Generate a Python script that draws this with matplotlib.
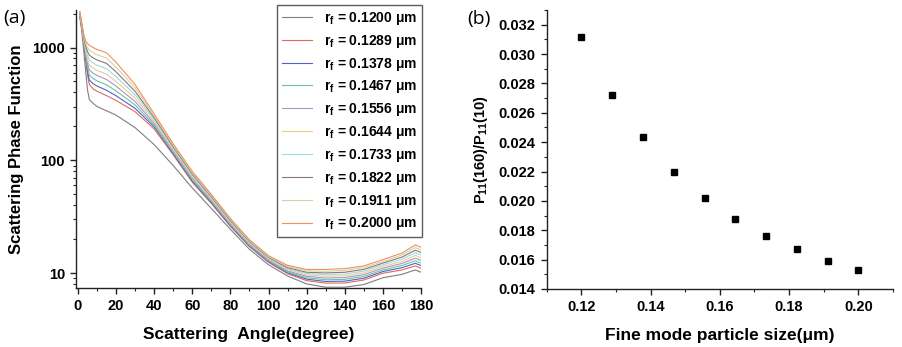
import matplotlib
matplotlib.use("Agg")
import matplotlib.pyplot as plt
from matplotlib.ticker import MultipleLocator, LogLocator, NullFormatter, FixedLocator, FormatStrFormatter

plt.rcParams['font.family'] = ['Liberation Sans', 'DejaVu Sans']
plt.rcParams['mathtext.fontset'] = 'custom'
plt.rcParams['mathtext.rm'] = 'Liberation Sans:bold'
plt.rcParams['mathtext.bf'] = 'Liberation Sans:bold'
plt.rcParams['mathtext.it'] = 'Liberation Sans:bold'

# ---------------- data ----------------
angles = [1, 2, 3, 4, 5, 6, 8, 10, 15, 20, 30, 40, 50, 60, 70, 80, 90, 100,
          110, 120, 130, 140, 150, 160, 170, 177, 180]

radii_labels = ["0.1200", "0.1289", "0.1378", "0.1467", "0.1556",
                "0.1644", "0.1733", "0.1822", "0.1911", "0.2000"]

p_r01200 = [1860, 1410, 955, 630, 425, 345, 320, 300, 275, 252, 195, 138, 90, 57, 37.5, 24.5, 16.3, 11.9, 9.44, 8.04, 7.52, 7.52, 7.94, 9.12, 9.77, 10.7, 10.2]
p_r01289 = [1905, 1515, 1095, 795, 575, 470, 430, 410, 375, 340, 270, 190, 112, 64, 41.5, 26.0, 17.2, 12.5, 9.89, 8.61, 8.17, 8.2, 8.71, 10.0, 10.7, 11.6, 11.1]
p_r01378 = [1930, 1530, 1120, 830, 620, 515, 477, 456, 418, 374, 289, 198, 115, 65.8, 42.5, 26.5, 17.5, 12.7, 10.1, 8.86, 8.45, 8.51, 9.03, 10.35, 11.2, 12.25, 11.7]
p_r01467 = [1950, 1550, 1150, 870, 675, 570, 531, 507, 467, 413, 310, 205, 118, 67.7, 43.5, 27.0, 17.8, 12.9, 10.3, 9.12, 8.75, 8.82, 9.36, 10.7, 11.7, 12.9, 12.3]
p_r01556 = [1970, 1565, 1175, 910, 730, 635, 590, 565, 521, 455, 332, 213, 122, 69.6, 44.5, 27.6, 18.1, 13.1, 10.5, 9.39, 9.06, 9.15, 9.7, 11.1, 12.2, 13.6, 13.0]
p_r01644 = [2000, 1585, 1200, 955, 790, 700, 656, 628, 581, 501, 356, 222, 125, 71.6, 45.5, 28.1, 18.4, 13.4, 10.8, 9.66, 9.39, 9.48, 10.06, 11.5, 12.7, 14.4, 13.7]
p_r01733 = [2020, 1605, 1230, 1000, 855, 775, 728, 698, 648, 552, 382, 230, 129, 73.6, 46.6, 28.7, 18.7, 13.6, 11.0, 9.94, 9.72, 9.84, 10.42, 11.9, 13.3, 15.2, 14.5]
p_r01822 = [2040, 1620, 1260, 1045, 925, 855, 809, 776, 723, 609, 409, 239, 132, 75.7, 47.7, 29.3, 19.1, 13.8, 11.2, 10.2, 10.07, 10.2, 10.81, 12.3, 13.9, 16.0, 15.3]
p_r01911 = [2065, 1640, 1290, 1095, 1000, 945, 900, 863, 806, 671, 439, 249, 136, 77.8, 48.8, 29.9, 19.4, 14.0, 11.5, 10.5, 10.4, 10.6, 11.2, 12.7, 14.5, 16.9, 16.1]
p_r02000 = [2090, 1660, 1320, 1150, 1085, 1045, 1000, 960, 900, 740, 470, 258, 140, 80, 50, 30.5, 19.8, 14.3, 11.75, 10.8, 10.8, 11.0, 11.6, 13.2, 15.1, 17.8, 17.0]

series = [p_r01200, p_r01289, p_r01378, p_r01467, p_r01556,
          p_r01644, p_r01733, p_r01822, p_r01911, p_r02000]

colors = ['#7f7f7f', '#e06a5e', '#5262c4', '#6cc49a', '#a498cc',
          '#f2c890', '#98dce4', '#8c7676', '#cdd4a8', '#f0905a']

size_um = [0.1200, 0.1289, 0.1378, 0.1467, 0.1556, 0.1644, 0.1733, 0.1822, 0.1911, 0.2000]
ratio = [0.03114, 0.02720, 0.02432, 0.02200, 0.02020, 0.01880, 0.01759, 0.01670, 0.01589, 0.01532]

# ---------------- figure ----------------
W, H = 902, 347
fig = plt.figure(figsize=(W / 100, H / 100), dpi=100)

def box(l, r, t, b):
    return [l / W, 1 - b / H, (r - l) / W, (b - t) / H]

# panel (a)
ax1 = fig.add_axes(box(76, 421, 10, 288))
for s, c, lab in zip(series, colors, radii_labels):
    ax1.plot(angles, s, color=c, lw=0.8,
             label=r'r$_\mathbf{f}$ = ' + lab + ' μm')
ax1.set_yscale('log')
ax1.set_xlim(-1, 180)
ax1.set_ylim(7.4, 2150)
ax1.xaxis.set_major_locator(MultipleLocator(20))
ax1.xaxis.set_minor_locator(MultipleLocator(10))
ax1.yaxis.set_major_locator(FixedLocator([10, 100, 1000]))
ax1.yaxis.set_minor_locator(LogLocator(base=10, subs=range(2, 10)))
ax1.yaxis.set_minor_formatter(NullFormatter())
ax1.set_yticklabels(['10', '100', '1000'])
ax1.set_xlabel('Scattering  Angle(degree)', fontsize=12.5, fontweight='bold', labelpad=10)
ax1.set_ylabel('Scattering Phase Function', fontsize=12, fontweight='bold', labelpad=6)

leg = ax1.legend(loc='upper right', bbox_to_anchor=(422 / W, 1 - 5 / H),
                 bbox_transform=fig.transFigure, borderaxespad=0,
                 prop=dict(family='Liberation Sans', weight='bold', size=10),
                 fancybox=False, frameon=True, handlelength=2.2, handletextpad=0.85,
                 labelspacing=0.42, borderpad=0.35)
leg.get_frame().set_edgecolor('#333333')
leg.get_frame().set_linewidth(1.0)

# panel (b)
ax2 = fig.add_axes(box(546.7, 893, 10, 289))
ax2.plot(size_um, ratio, 's', color='black', markersize=5, linestyle='none')
ax2.set_xlim(0.11, 0.21)
ax2.set_ylim(0.014, 0.033)
ax2.xaxis.set_major_locator(MultipleLocator(0.02))
ax2.xaxis.set_minor_locator(MultipleLocator(0.01))
ax2.yaxis.set_major_locator(MultipleLocator(0.002))
ax2.yaxis.set_minor_locator(MultipleLocator(0.001))
ax2.xaxis.set_major_formatter(FormatStrFormatter('%.2f'))
ax2.yaxis.set_major_formatter(FormatStrFormatter('%.3f'))
ax2.set_xlabel('Fine mode particle size(μm)', fontsize=12.5, fontweight='bold', labelpad=10)
ax2.set_ylabel(r'P$_{\mathbf{11}}$(160)/P$_{\mathbf{11}}$(10)', fontsize=10.5, fontweight='bold', labelpad=6)

for ax in (ax1, ax2):
    ax.spines['top'].set_visible(False)
    ax.spines['right'].set_visible(False)
    for sp in ('left', 'bottom'):
        ax.spines[sp].set_linewidth(1.0)
        ax.spines[sp].set_color('#222222')
    ax.tick_params(which='major', direction='out', length=4.5, width=1.0, colors='#222222')
    ax.tick_params(which='minor', direction='out', length=2.5, width=0.8, colors='#222222')
    for lab in ax.get_xticklabels() + ax.get_yticklabels():
        lab.set_fontweight('bold')
        lab.set_fontsize(10.5)
        lab.set_color('black')

fig.text(3 / W, 1 - 18 / H, '(a)', fontsize=14, family='Open Sans', va='center', ha='left')
fig.text(467 / W, 1 - 19 / H, '(b)', fontsize=14, family='Open Sans', va='center', ha='left')

fig.savefig('out.png', dpi=100)
